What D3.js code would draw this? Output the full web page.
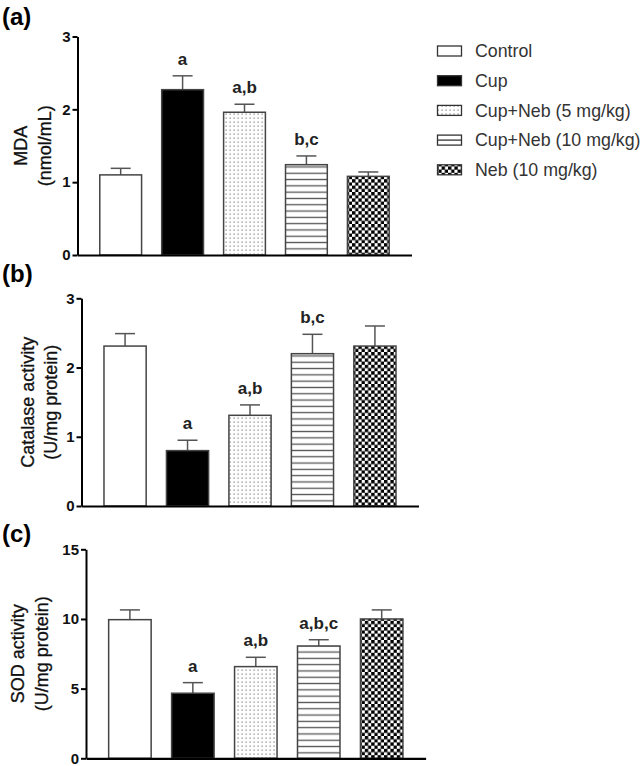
<!DOCTYPE html>
<html>
<head>
<meta charset="utf-8">
<script src="https://cdn.jsdelivr.net/npm/d3@7/dist/d3.min.js"></script>
<style>
  html, body { margin: 0; padding: 0; background: #fff; }
  svg { display: block; font-family: "Liberation Sans", Arial, sans-serif; }
</style>
</head>
<body>
<svg id="chart" width="644" height="766"></svg>
<script>
// ---------------- DATA ----------------
const groups = ["Control", "Cup", "Cup+Neb (5 mg/kg)", "Cup+Neb (10 mg/kg)", "Neb (10 mg/kg)"];

const mdaMean = [1.10, 2.27, 1.96, 1.24, 1.08];
const mdaErr  = [0.09, 0.19, 0.11, 0.12, 0.06];
const mdaSig  = ["", "a", "a,b", "b,c", ""];
const mdaTicks = [0, 1, 2, 3];

const catMean = [2.31, 0.80, 1.31, 2.20, 2.31];
const catErr  = [0.18, 0.15, 0.15, 0.28, 0.29];
const catSig  = ["", "a", "a,b", "b,c", ""];
const catTicks = [0, 1, 2, 3];

const sodMean = [9.95, 4.67, 6.58, 8.06, 10.0];
const sodErr  = [0.70, 0.76, 0.67, 0.45, 0.65];
const sodSig  = ["", "a", "a,b", "a,b,c", ""];
const sodTicks = [0, 5, 10, 15];

const panelLabels = ["(a)", "(b)", "(c)"];
const yTitles = [["MDA", "(nmol/mL)"], ["Catalase activity", "(U/mg protein)"], ["SOD activity", "(U/mg protein)"]];

// ---------------- LAYOUT ----------------
const svg = d3.select("#chart");
const defs = svg.append("defs");

// patterns
const dots = defs.append("pattern").attr("id", "dots").attr("patternUnits", "userSpaceOnUse")
  .attr("width", 4).attr("height", 4);
dots.append("rect").attr("width", 4).attr("height", 4).attr("fill", "#fff");
dots.append("rect").attr("x", 1.5).attr("y", 1.5).attr("width", 1.2).attr("height", 1.2).attr("fill", "#777");

const stripes = defs.append("pattern").attr("id", "stripes").attr("patternUnits", "userSpaceOnUse")
  .attr("width", 6.3).attr("height", 6.3);
stripes.append("rect").attr("width", 6.3).attr("height", 6.3).attr("fill", "#fff");
stripes.append("rect").attr("x", 0).attr("y", 2.5).attr("width", 6.3).attr("height", 1.3).attr("fill", "#555");

const checker = defs.append("pattern").attr("id", "checker").attr("patternUnits", "userSpaceOnUse")
  .attr("width", 6.4).attr("height", 6.4);
checker.append("rect").attr("width", 6.4).attr("height", 6.4).attr("fill", "#fff");
checker.append("rect").attr("x", 0).attr("y", 0).attr("width", 3.4).attr("height", 3.4).attr("fill", "#000");
checker.append("rect").attr("x", 3.2).attr("y", 3.2).attr("width", 3.4).attr("height", 3.4).attr("fill", "#000");

const fills = ["#fff", "#000", "url(#dots)", "url(#stripes)", "url(#checker)"];

const panels = [
  { mean: mdaMean, err: mdaErr, sig: mdaSig, ticks: mdaTicks, max: 3,
    x0: 77.5, x1: 411.5, yTop: 36.5, yBot: 255, labelY: 25, titleX: [27, 50.5] },
  { mean: catMean, err: catErr, sig: catSig, ticks: catTicks, max: 3,
    x0: 81.5, x1: 418.5, yTop: 298.3, yBot: 506, labelY: 282, titleX: [33.5, 57] },
  { mean: sodMean, err: sodErr, sig: sodSig, ticks: sodTicks, max: 15,
    x0: 86, x1: 425.6, yTop: 549.3, yBot: 758.3, labelY: 542, titleX: [24, 47.5] }
];

panels.forEach((p, pi) => {
  const g = svg.append("g");
  const x = d3.scaleBand().domain(groups).range([p.x0, p.x1]).paddingInner(0.325).paddingOuter(0.36);
  const y = d3.scaleLinear().domain([0, p.max]).range([p.yBot, p.yTop]);

  // error bars (upper only)
  const eb = g.append("g").attr("stroke", "#555").attr("stroke-width", 1.5).attr("fill", "none");
  groups.forEach((gr, i) => {
    const cx = x(gr) + x.bandwidth() / 2;
    eb.append("line").attr("x1", cx).attr("x2", cx).attr("y1", y(p.mean[i])).attr("y2", y(p.mean[i] + p.err[i]));
    eb.append("line").attr("x1", cx - 10).attr("x2", cx + 10)
      .attr("y1", y(p.mean[i] + p.err[i])).attr("y2", y(p.mean[i] + p.err[i]));
  });

  // bars
  g.append("g").selectAll("rect").data(groups).join("rect")
    .attr("x", d => x(d))
    .attr("y", (d, i) => y(p.mean[i]))
    .attr("width", x.bandwidth())
    .attr("height", (d, i) => y(0) - y(p.mean[i]))
    .attr("fill", (d, i) => fills[i])
    .attr("stroke", "#444")
    .attr("stroke-width", 1.5);

  // significance letters
  g.append("g").selectAll("text").data(groups).join("text")
    .attr("x", d => x(d) + x.bandwidth() / 2)
    .attr("y", (d, i) => y(p.mean[i] + p.err[i]) - 11)
    .attr("text-anchor", "middle")
    .style("font-size", "17px").style("font-weight", "bold").attr("fill", "#222")
    .text((d, i) => p.sig[i]);

  // y axis
  const yAxis = d3.axisLeft(y).tickValues(p.ticks).tickFormat(d3.format("d"))
    .tickSize(5).tickPadding(2).tickSizeOuter(0);
  const ya = g.append("g").attr("transform", `translate(${p.x0},0)`).call(yAxis);
  ya.attr("font-size", null).attr("font-family", null);
  ya.select(".domain").attr("stroke", "#000").attr("stroke-width", 2);
  ya.selectAll(".tick line").attr("stroke", "#000").attr("stroke-width", 2);
  ya.selectAll(".tick text")
    .style("font-size", "15px").style("font-weight", "bold")
    .style("font-family", "'Liberation Sans', Arial, sans-serif").attr("fill", "#111");

  // x axis (line only)
  const xAxis = d3.axisBottom(x).tickSize(0).tickFormat("").tickSizeOuter(0);
  const xa = g.append("g").attr("transform", `translate(0,${p.yBot})`).call(xAxis);
  xa.select(".domain").attr("stroke", "#000").attr("stroke-width", 2.2);

  // y title
  const ym = (p.yTop + p.yBot) / 2;
  yTitles[pi].forEach((t, li) => {
    g.append("text")
      .attr("transform", `translate(${p.titleX[li]},${ym}) rotate(-90)`)
      .attr("text-anchor", "middle")
      .style("font-size", "18px").attr("fill", "#111")
      .attr("stroke", "#111").attr("stroke-width", 0.3)
      .text(t);
  });

  // panel label
  g.append("text").attr("x", 2).attr("y", p.labelY)
    .style("font-size", "24px").style("font-weight", "bold").attr("fill", "#000")
    .text(panelLabels[pi]);
});

// ---------------- LEGEND ----------------
const leg = svg.append("g");
const legFills = ["#fff", "#000", "url(#dots)", null, "url(#checker)"];
groups.forEach((gr, i) => {
  const cy = 51 + i * 29.7;
  const r = leg.append("g");
  r.append("rect").attr("x", 437.5).attr("y", cy - 5).attr("width", 24).attr("height", 10)
    .attr("fill", legFills[i] || "#fff").attr("stroke", "#333").attr("stroke-width", 1.3);
  if (i === 3) {
    r.append("line").attr("x1", 437.5).attr("x2", 461.5).attr("y1", cy).attr("y2", cy)
      .attr("stroke", "#333").attr("stroke-width", 1.3);
  }
  r.append("text").attr("x", 475).attr("y", cy + 6.3)
    .style("font-size", "17.8px").attr("fill", "#333").text(gr);
});
</script>
</body>
</html>
